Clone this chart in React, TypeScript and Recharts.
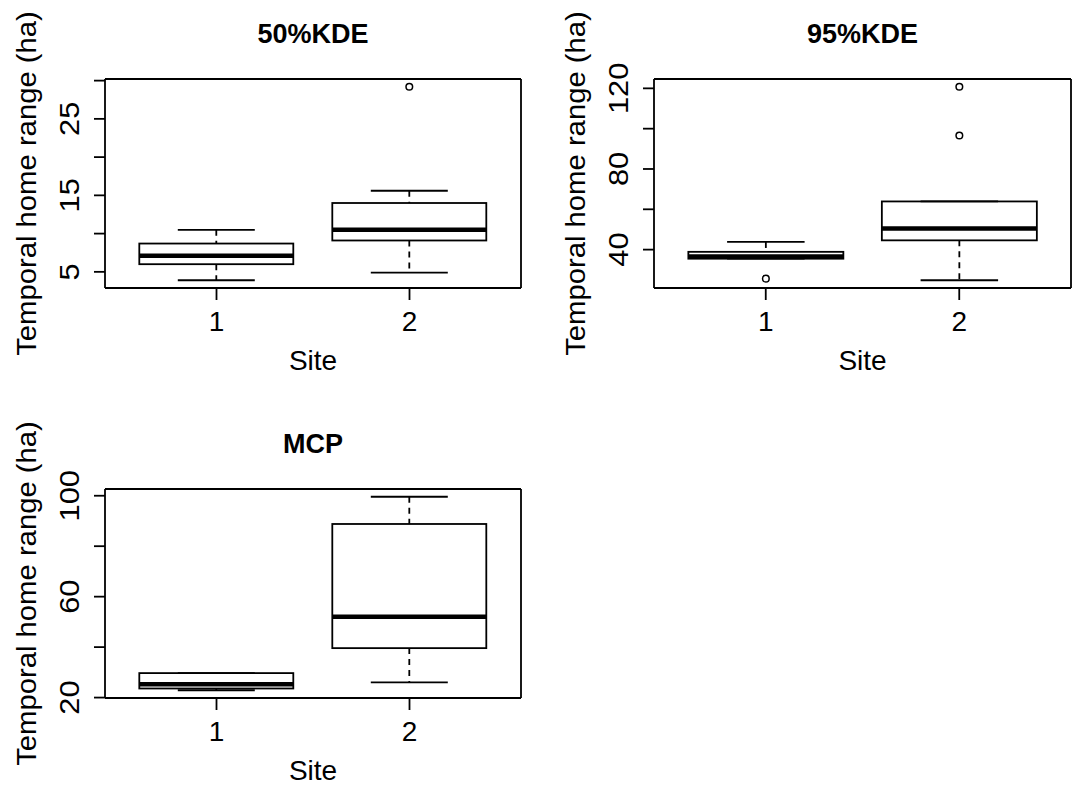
import React from 'react';
import { ComposedChart, Bar, Line, XAxis, YAxis } from 'recharts';

const FONT = '"Liberation Sans", Arial, Helvetica, sans-serif';

// Sites on the x axis
const SITES = ['1', '2'];

// 50%KDE box stats per site
const KDE50_LOW = [3.9, 4.9];
const KDE50_Q1 = [6.0, 9.1];
const KDE50_MED = [7.1, 10.5];
const KDE50_Q3 = [8.7, 14.0];
const KDE50_HIGH = [10.5, 15.6];
const KDE50_OUT = [[], [29.2]];
const KDE50_TICKS = [5, 10, 15, 20, 25, 30];
const KDE50_LABELS = [5, 15, 25];

// 95%KDE box stats per site
const KDE95_LOW = [35.5, 24.8];
const KDE95_Q1 = [35.5, 44.6];
const KDE95_MED = [36.6, 50.5];
const KDE95_Q3 = [38.9, 63.9];
const KDE95_HIGH = [43.8, 63.9];
const KDE95_OUT = [[25.6], [96.6, 120.8]];
const KDE95_TICKS = [40, 60, 80, 100, 120];
const KDE95_LABELS = [40, 80, 120];

// MCP box stats per site
const MCP_LOW = [22.9, 26.0];
const MCP_Q1 = [23.6, 39.6];
const MCP_MED = [25.3, 52.0];
const MCP_Q3 = [29.7, 88.8];
const MCP_HIGH = [29.7, 99.6];
const MCP_OUT = [[], []];
const MCP_TICKS = [20, 40, 60, 80, 100];
const MCP_LABELS = [20, 60, 100];

interface BoxRow {
  site: string;
  low: number;
  q1: number;
  med: number;
  q3: number;
  high: number;
  outliers: number[];
}

function buildRows(low: number[], q1: number[], med: number[], q3: number[], high: number[], out: number[][]): BoxRow[] {
  return SITES.map((site, i) => ({
    site,
    low: low[i],
    q1: q1[i],
    med: med[i],
    q3: q3[i],
    high: high[i],
    outliers: out[i],
  }));
}

// R style: data range widened by 4% on each side
function rDomain(rows: BoxRow[]): [number, number] {
  const all = rows.flatMap((r) => [r.low, r.high, ...r.outliers]);
  const min = Math.min(...all);
  const max = Math.max(...all);
  const pad = (max - min) * 0.04;
  return [min - pad, max + pad];
}

const LW = 1.8;

function BoxShape(props: any) {
  const { x, y, width, height, payload } = props;
  if (!payload) return null;
  const top = Math.min(y, y + height);
  const bottom = Math.max(y, y + height);
  const span = payload.q3 - payload.q1;
  const k = span > 0 ? (bottom - top) / span : 0;
  const py = (v: number) => bottom - (v - payload.q1) * k;
  const cx = x + width / 2;
  const capHalf = width / 4;

  return (
    <g>
      {payload.high > payload.q3 && (
        <line x1={cx} x2={cx} y1={py(payload.high)} y2={top} stroke="#000" strokeWidth={LW} strokeDasharray="6 5" />
      )}
      {payload.low < payload.q1 && (
        <line x1={cx} x2={cx} y1={bottom} y2={py(payload.low)} stroke="#000" strokeWidth={LW} strokeDasharray="6 5" />
      )}
      <line x1={cx - capHalf} x2={cx + capHalf} y1={py(payload.high)} y2={py(payload.high)} stroke="#000" strokeWidth={LW} />
      <line x1={cx - capHalf} x2={cx + capHalf} y1={py(payload.low)} y2={py(payload.low)} stroke="#000" strokeWidth={LW} />
      <rect x={x} y={top} width={width} height={bottom - top} fill="none" stroke="#000" strokeWidth={LW} />
      <line x1={x} x2={x + width} y1={py(payload.med)} y2={py(payload.med)} stroke="#000" strokeWidth={4.5} />
      {payload.outliers.map((v: number, i: number) => (
        <circle key={i} cx={cx} cy={py(v)} r={3.3} fill="none" stroke="#000" strokeWidth={1.5} />
      ))}
    </g>
  );
}

// rotated text in the reference runs a little longer than upright text
function RotText({ cx, cy, stretch, children }: { cx: number; cy: number; stretch: number; children: React.ReactNode }) {
  return (
    <text
      x={0}
      y={0}
      transform={`translate(${cx} ${cy}) rotate(-90) scale(${stretch} 1)`}
      textAnchor="middle"
      dominantBaseline="central"
      fontSize={28}
      fontFamily={FONT}
      fill="#000"
    >
      {children}
    </text>
  );
}

function YTick(props: any) {
  const { x, y, payload, labels } = props;
  if (!labels.includes(payload.value)) return null;
  return (
    <RotText cx={x - 25} cy={y} stretch={1.1}>
      {payload.value}
    </RotText>
  );
}

function XTick(props: any) {
  const { x, y, payload } = props;
  return (
    <text x={x} y={y + 21} textAnchor="middle" dominantBaseline="central" fontSize={28} fontFamily={FONT} fill="#000">
      {payload.value}
    </text>
  );
}

function YTitle(props: any) {
  const vb = props.viewBox || {};
  return (
    <RotText cx={vb.x + vb.width - 79} cy={vb.y + vb.height / 2} stretch={1.045}>
      Temporal home range (ha)
    </RotText>
  );
}

function XTitle(props: any) {
  const vb = props.viewBox || {};
  return (
    <text x={vb.x + vb.width / 2} y={vb.y + 72} textAnchor="middle" dominantBaseline="central" fontSize={28} fontFamily={FONT} fill="#000">
      Site
    </text>
  );
}

const CHART_H = 376;
const PLOT_H = 209;
const MARGIN = { top: 78, right: 1, bottom: 0, left: 0 };
const Y_AXIS_W = 106;
const FRAME = { stroke: '#000', strokeWidth: LW };

interface PanelProps {
  title: string;
  rows: BoxRow[];
  ticks: number[];
  labels: number[];
  plotLeft: number;
  plotW: number;
  top: number;
}

function Panel({ title, rows, ticks, labels, plotLeft, plotW, top }: PanelProps) {
  const domain = rDomain(rows);
  const chartW = Y_AXIS_W + plotW + MARGIN.right + 1;
  const xPad = Math.round((0.08 / 2.16) * plotW);
  return (
    <div style={{ position: 'absolute', left: plotLeft - Y_AXIS_W, top, width: chartW, height: CHART_H }}>
      <div
        style={{
          position: 'absolute',
          left: Y_AXIS_W,
          width: plotW,
          top: 20,
          height: 28,
          lineHeight: '28px',
          textAlign: 'center',
          fontFamily: FONT,
          fontWeight: 700,
          fontSize: 27,
          color: '#000',
        }}
      >
        {title}
      </div>
      <ComposedChart width={chartW} height={CHART_H} data={rows} margin={MARGIN} barCategoryGap="10%">
        <XAxis
          dataKey="site"
          type="category"
          padding={{ left: xPad, right: xPad }}
          height={CHART_H - MARGIN.top - 1 - MARGIN.bottom - PLOT_H}
          axisLine={FRAME}
          tickLine={FRAME}
          tickSize={12}
          tickMargin={0}
          tick={<XTick />}
          label={<XTitle />}
        />
        <XAxis xAxisId="top" dataKey="site" orientation="top" height={1} tick={false} tickLine={false} axisLine={FRAME} />
        <YAxis
          type="number"
          domain={domain}
          ticks={ticks}
          allowDataOverflow
          width={Y_AXIS_W}
          axisLine={FRAME}
          tickLine={FRAME}
          tickSize={11}
          tickMargin={0}
          interval={0}
          tick={<YTick labels={labels} />}
          label={<YTitle />}
        />
        <YAxis yAxisId="right" orientation="right" type="number" domain={[0, 1]} width={1} tick={false} tickLine={false} axisLine={FRAME} />
        <Bar dataKey={(d: BoxRow) => [d.q1, d.q3]} shape={<BoxShape />} isAnimationActive={false} />
        <Line xAxisId="top" yAxisId="right" dataKey={() => null} stroke="none" dot={false} activeDot={false} isAnimationActive={false} />
      </ComposedChart>
    </div>
  );
}

export default function App() {
  const kde50 = buildRows(KDE50_LOW, KDE50_Q1, KDE50_MED, KDE50_Q3, KDE50_HIGH, KDE50_OUT);
  const kde95 = buildRows(KDE95_LOW, KDE95_Q1, KDE95_MED, KDE95_Q3, KDE95_HIGH, KDE95_OUT);
  const mcp = buildRows(MCP_LOW, MCP_Q1, MCP_MED, MCP_Q3, MCP_HIGH, MCP_OUT);

  return (
    <div style={{ position: 'relative', width: 1073, height: 786, background: '#fff', overflow: 'hidden' }}>
      <style>{'body{margin:0;background:#fff}'}</style>
      <Panel title="50%KDE" rows={kde50} ticks={KDE50_TICKS} labels={KDE50_LABELS} plotLeft={105} plotW={416} top={0} />
      <Panel title="95%KDE" rows={kde95} ticks={KDE95_TICKS} labels={KDE95_LABELS} plotLeft={654} plotW={417} top={0} />
      <Panel title="MCP" rows={mcp} ticks={MCP_TICKS} labels={MCP_LABELS} plotLeft={105} plotW={416} top={410} />
    </div>
  );
}
